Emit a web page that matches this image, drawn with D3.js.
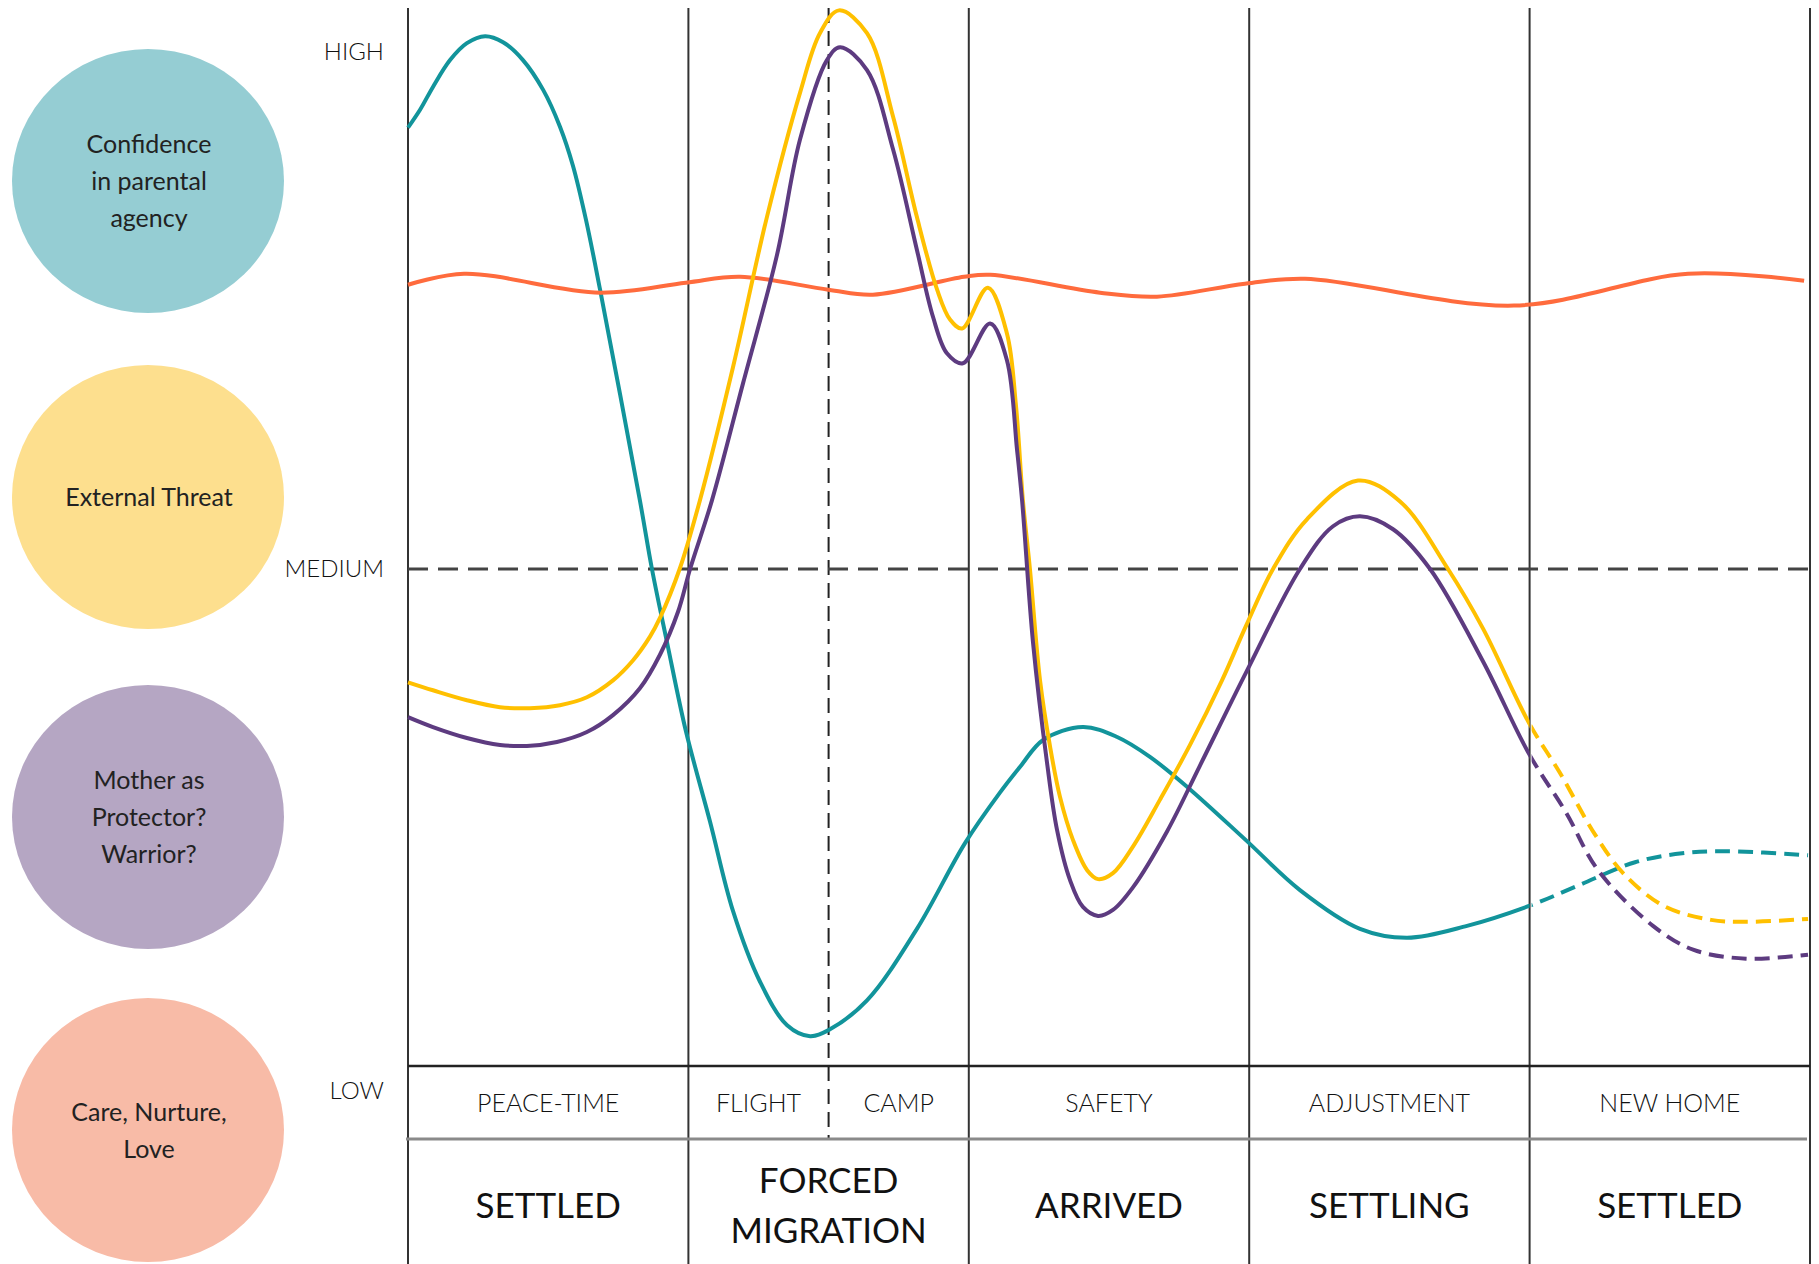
<!DOCTYPE html>
<html>
<head>
<meta charset="utf-8">
<script src="https://cdn.jsdelivr.net/npm/d3@7"></script>
<style>
  body { margin: 0; background: #fff; }
  svg { display: block; font-family: Lato, "Noto Sans", sans-serif; }
</style>
</head>
<body>
<svg id="chart" width="1819" height="1264"></svg>
<script>
// x = position along the journey (one unit per stage column), y = level (0 LOW, 50 MEDIUM, 100 HIGH)
const levelLabels = ["HIGH", "MEDIUM", "LOW"];
const levelValues = [100, 50, 0];

const stageLabels = ["PEACE-TIME", "FLIGHT", "CAMP", "SAFETY", "ADJUSTMENT", "NEW HOME"];
const stageAt = [0.5, 1.25, 1.75, 2.5, 3.5, 4.5];
const periodLabels = [["SETTLED"], ["FORCED", "MIGRATION"], ["ARRIVED"], ["SETTLING"], ["SETTLED"]];
const columnEdges = [0, 1, 2, 3, 4, 5];
const campSplit = 1.5;
const projectedFrom = 4; // last column is drawn dashed (projection)

const legendLabels = [
  ["Confidence", "in parental", "agency"],
  ["External Threat"],
  ["Mother as", "Protector?", "Warrior?"],
  ["Care, Nurture,", "Love"]
];
const legendFills = ["#95cdd3", "#fddf8e", "#b5a6c3", "#f8bba7"];

// Confidence in parental agency (teal)
const confidence = [
  [0, 94.4], [0.043, 96.2], [0.089, 98.5], [0.15, 101.2], [0.21, 102.9], [0.275, 103.6],
  [0.339, 103.0], [0.41, 101.2], [0.482, 98.2], [0.542, 94.5], [0.588, 90.6], [0.635, 85.1],
  [0.685, 78.1], [0.827, 56.9], [0.87, 50.0], [0.924, 42.6], [0.991, 33.7], [1.077, 24.6],
  [1.159, 15.6], [1.255, 8.5], [1.352, 4.1], [1.434, 3.0], [1.505, 3.7], [1.637, 6.6],
  [1.815, 13.8], [1.986, 22.4], [2.111, 27.5], [2.183, 30.1], [2.265, 32.8], [2.407, 34.1],
  [2.529, 33.1], [2.646, 31.1], [2.778, 28.1], [2.989, 22.7], [3.181, 17.7], [3.395, 13.8],
  [3.563, 12.9], [3.777, 14.1], [3.998, 16.1], [4.169, 18.1], [4.376, 20.5], [4.544, 21.4],
  [4.708, 21.6], [4.993, 21.2]
];

// External Threat (yellow)
const threat = [
  [0, 38.6], [0.089, 37.8], [0.21, 36.8], [0.328, 36.1], [0.435, 36.0], [0.542, 36.3],
  [0.638, 37.1], [0.731, 38.8], [0.802, 40.8], [0.863, 43.2], [0.899, 45.1], [0.97, 50.1],
  [1.041, 56.9], [1.159, 70.3], [1.28, 85.4], [1.398, 97.9], [1.469, 103.9], [1.537, 106.2],
  [1.637, 103.9], [1.73, 95.5], [1.815, 85.4], [1.887, 78.1], [1.933, 75.1], [1.976, 74.2],
  [2.068, 78.3], [2.136, 73.7], [2.168, 66.5], [2.193, 56.9], [2.218, 50.0], [2.254, 38.8],
  [2.29, 32.1], [2.325, 27.1], [2.372, 22.7], [2.422, 19.7], [2.461, 18.8], [2.514, 19.4],
  [2.586, 22.1], [2.682, 26.8], [2.789, 32.3], [2.903, 38.8], [2.989, 44.3], [3.085, 50.0],
  [3.206, 55.0], [3.388, 58.9], [3.538, 56.8], [3.709, 50.0], [3.834, 44.0], [3.998, 34.5],
  [4.108, 29.5], [4.233, 23.3], [4.337, 19.3], [4.479, 16.1], [4.647, 14.7], [4.772, 14.5],
  [4.993, 14.8]
];

// Mother as Protector? Warrior? (purple)
const protector = [
  [0, 35.1], [0.089, 34.1], [0.21, 33.0], [0.328, 32.3], [0.424, 32.2], [0.531, 32.6],
  [0.638, 33.6], [0.731, 35.3], [0.827, 38.0], [0.899, 41.4], [0.963, 45.7], [1.006, 50.0],
  [1.084, 56.9], [1.195, 68.7], [1.316, 81.6], [1.398, 93.2], [1.494, 101.2], [1.541, 102.5],
  [1.637, 100.2], [1.73, 92.2], [1.815, 82.1], [1.872, 75.4], [1.922, 71.7], [1.979, 70.7],
  [2.076, 74.7], [2.136, 71.0], [2.172, 62.0], [2.19, 56.9], [2.229, 42.6], [2.279, 30.5],
  [2.315, 23.7], [2.361, 18.7], [2.407, 16.0], [2.461, 15.1], [2.514, 15.7], [2.586, 18.0],
  [2.707, 23.6], [2.824, 30.2], [2.989, 39.6], [3.181, 50.0], [3.299, 54.3], [3.395, 55.3],
  [3.513, 54.0], [3.645, 50.0], [3.834, 40.7], [3.998, 31.4], [4.13, 25.5], [4.244, 19.7],
  [4.44, 14.1], [4.583, 11.7], [4.772, 10.8], [4.993, 11.2]
];

// Care, Nurture, Love (orange)
const care = [
  [0, 78.6], [0.2, 79.7], [0.685, 77.8], [0.991, 78.8], [1.184, 79.4], [1.499, 78.1],
  [1.658, 77.6], [1.983, 79.4], [2.076, 79.6], [2.468, 77.8], [2.671, 77.4], [2.985, 78.7],
  [3.199, 79.2], [3.944, 76.5], [4.565, 79.7], [4.979, 79.0]
];

const series = [
  { data: confidence, color: "#12949b", projected: true },
  { data: care, color: "#ff6b3d", projected: false },
  { data: threat, color: "#ffc000", projected: true },
  { data: protector, color: "#5d3b80", projected: true }
];

const svg = d3.select("#chart");
const W = 1819, H = 1264;

svg.append("rect").attr("width", W).attr("height", H).attr("fill", "#fff");

const x = d3.scaleLinear().domain([0, 5]).range([408, 1810]);
const y = d3.scaleLinear().domain([0, 100]).range([1066, 72]);

const topY = 8, rowSplit = 1139;

// legend circles on the left
const legendY = [181, 497, 817, 1130];
const lg = svg.append("g");
legendLabels.forEach((rows, i) => {
  lg.append("ellipse")
    .attr("cx", 148).attr("cy", legendY[i])
    .attr("rx", 136).attr("ry", 132)
    .attr("fill", legendFills[i]);
  const lineH = 37;
  const first = legendY[i] + 9 - (rows.length - 1) * lineH / 2;
  rows.forEach((t, j) => {
    lg.append("text")
      .attr("x", 149).attr("y", first + j * lineH)
      .attr("text-anchor", "middle")
      .style("font-size", "25px")
      .style("font-weight", 400)
      .style("fill", "#222")
      .text(t);
  });
});

// level labels
const levelDy = [-12, 8, 33];
levelLabels.forEach((t, i) => {
  svg.append("text")
    .attr("x", 384).attr("y", y(levelValues[i]) + levelDy[i])
    .attr("text-anchor", "end")
    .style("font-size", "24px")
    .style("font-weight", 300)
    .style("fill", "#111")
    .text(t);
});

// column rules
svg.append("g").selectAll("line")
  .data(columnEdges)
  .join("line")
  .attr("x1", d => x(d)).attr("x2", d => x(d))
  .attr("y1", topY).attr("y2", H)
  .attr("stroke", "#333")
  .attr("stroke-width", 2);

// flight / camp split
svg.append("line")
  .attr("x1", x(campSplit)).attr("x2", x(campSplit))
  .attr("y1", topY).attr("y2", rowSplit)
  .attr("stroke", "#222")
  .attr("stroke-width", 2)
  .attr("stroke-dasharray", "15,8");

// medium reference
svg.append("line")
  .attr("x1", x(0)).attr("x2", x(5))
  .attr("y1", y(50)).attr("y2", y(50))
  .attr("stroke", "#444")
  .attr("stroke-width", 3)
  .attr("stroke-dasharray", "20,10");

// table rules
svg.append("line")
  .attr("x1", x(0)).attr("x2", x(5))
  .attr("y1", y(0)).attr("y2", y(0))
  .attr("stroke", "#222").attr("stroke-width", 2.5);
svg.append("line")
  .attr("x1", x(0) - 2).attr("x2", x(5) - 3)
  .attr("y1", rowSplit).attr("y2", rowSplit)
  .attr("stroke", "#8a8a8a").attr("stroke-width", 3);

// stage labels
stageLabels.forEach((t, i) => {
  svg.append("text")
    .attr("x", x(stageAt[i])).attr("y", 1112)
    .attr("text-anchor", "middle")
    .style("font-size", "25px")
    .style("font-weight", 300)
    .style("fill", "#111")
    .text(t);
});

// period labels
periodLabels.forEach((rows, i) => {
  const cx = x(i + 0.5);
  const first = 1218 - (rows.length - 1) * 25;
  rows.forEach((t, j) => {
    svg.append("text")
      .attr("x", cx).attr("y", first + j * 50)
      .attr("text-anchor", "middle")
      .style("font-size", "35px")
      .style("font-weight", 400)
      .style("fill", "#111")
      .text(t);
  });
});

// curves: solid up to the projection, dashed after
const defs = svg.append("defs");
defs.append("clipPath").attr("id", "clipSolid")
  .append("rect").attr("x", 0).attr("y", 0).attr("width", x(projectedFrom)).attr("height", H);
defs.append("clipPath").attr("id", "clipDash")
  .append("rect").attr("x", x(projectedFrom) + 2).attr("y", 0).attr("width", W).attr("height", H);

const line = d3.line()
  .x(d => x(d[0]))
  .y(d => y(d[1]))
  .curve(d3.curveCatmullRom.alpha(0.5));

const curveGroup = svg.append("g").attr("fill", "none").attr("stroke-linecap", "butt");
series.forEach(s => {
  curveGroup.append("path")
    .datum(s.data)
    .attr("d", line)
    .attr("stroke", s.color)
    .attr("stroke-width", 4)
    .attr("clip-path", s.projected ? "url(#clipSolid)" : null);
  if (s.projected) {
    curveGroup.append("path")
      .datum(s.data)
      .attr("d", line)
      .attr("stroke", s.color)
      .attr("stroke-width", 4)
      .attr("stroke-dasharray", "15,8")
      .attr("clip-path", "url(#clipDash)");
  }
});
</script>
</body>
</html>
